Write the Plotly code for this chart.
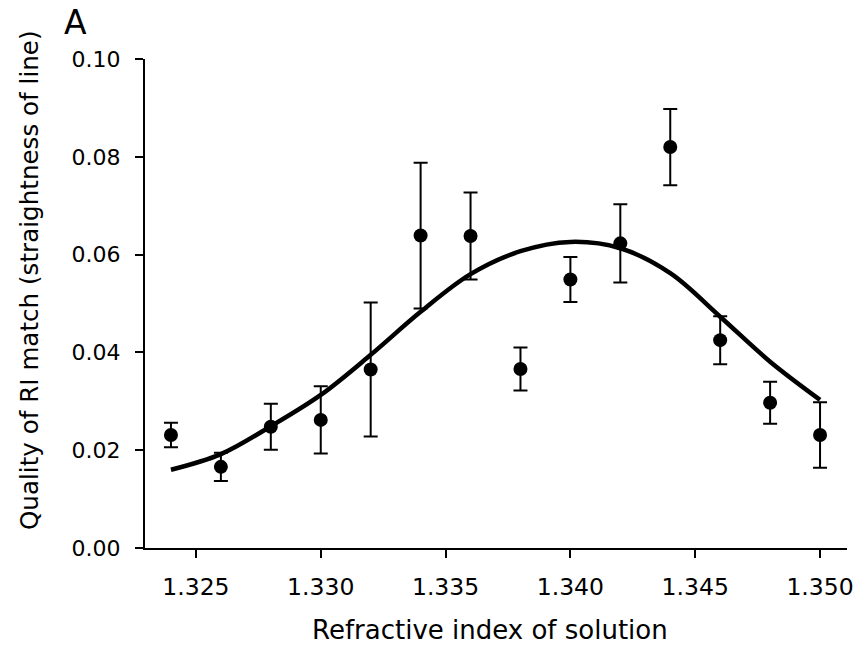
import plotly.graph_objects as go

# Data
ri = [1.324, 1.326, 1.328, 1.330, 1.332, 1.334, 1.336, 1.338, 1.340, 1.342, 1.344, 1.346, 1.348, 1.350]
quality = [0.0231, 0.0166, 0.0248, 0.0262, 0.0365, 0.0639, 0.0638, 0.0366, 0.0549, 0.0623, 0.0820, 0.0425, 0.0297, 0.0231]
err = [0.0025, 0.0029, 0.0047, 0.0069, 0.0137, 0.0149, 0.0089, 0.0044, 0.0046, 0.0080, 0.0078, 0.0049, 0.0043, 0.0067]

fit_x = [1.324, 1.326, 1.328, 1.330, 1.332, 1.334, 1.336, 1.338, 1.340, 1.342, 1.344, 1.346, 1.348, 1.350]
fit_y = [0.0160, 0.0192, 0.0249, 0.0313, 0.0395, 0.0483, 0.0560, 0.0607, 0.0626, 0.0613, 0.0562, 0.0473, 0.0381, 0.0303]

x_ticks = [1.325, 1.330, 1.335, 1.340, 1.345, 1.350]
x_ticklabels = ["1.325", "1.330", "1.335", "1.340", "1.345", "1.350"]
y_ticks = [0.00, 0.02, 0.04, 0.06, 0.08, 0.10]
y_ticklabels = ["0.00", "0.02", "0.04", "0.06", "0.08", "0.10"]

x_title = "Refractive index of solution"
y_title = "Quality of RI match (straightness of line)"
panel_label = "A"

FONT = "DejaVu Sans, Verdana, sans-serif"

# plot-area geometry in pixels
W, H = 860, 648
L, R, T, B = 145, 13, 59, 100
PW, PH = W - L - R, H - T - B


def px_x(p):
    return (p - L) / PW


def px_y(p):
    return (H - B - p) / PH


fig = go.Figure()
fig.add_trace(go.Scatter(
    x=fit_x, y=fit_y, mode="lines",
    line=dict(color="black", width=4.5, shape="spline", smoothing=1.0),
    hoverinfo="skip", showlegend=False,
))
fig.add_trace(go.Scatter(
    x=ri, y=quality, mode="markers",
    marker=dict(color="black", size=14, symbol="circle"),
    error_y=dict(type="data", array=err, visible=True, color="black", thickness=2, width=7),
    showlegend=False,
))

fig.update_layout(
    width=W, height=H,
    margin=dict(l=L, r=R, t=T, b=B, autoexpand=False),
    paper_bgcolor="white", plot_bgcolor="white",
    font=dict(family=FONT, size=21, color="black"),
    xaxis=dict(
        range=[1.32296, 1.35108],
        tickvals=x_ticks, ticktext=x_ticklabels,
        tickfont=dict(size=23.5),
        showline=True, linecolor="black", linewidth=2,
        ticks="outside", ticklen=8, tickwidth=2, tickcolor="black",
        ticklabelstandoff=9, automargin=False,
        showgrid=False, zeroline=False,
    ),
    yaxis=dict(
        range=[0, 0.1],
        tickvals=y_ticks, ticktext=y_ticklabels,
        tickfont=dict(size=22),
        showline=True, linecolor="black", linewidth=2,
        ticks="outside", ticklen=8, tickwidth=2, tickcolor="black",
        ticklabelstandoff=10, automargin=False,
        showgrid=False, zeroline=False,
    ),
    annotations=[
        dict(text=panel_label, x=px_x(75), y=px_y(23), xref="paper", yref="paper",
             xanchor="center", yanchor="middle", showarrow=False,
             font=dict(size=33, family=FONT)),
        dict(text=x_title, x=px_x(490), y=px_y(630), xref="paper", yref="paper",
             xanchor="center", yanchor="middle", showarrow=False,
             font=dict(size=26, family=FONT)),
        dict(text=y_title, x=px_x(29), y=px_y(280), xref="paper", yref="paper",
             xanchor="center", yanchor="middle", showarrow=False, textangle=-90,
             font=dict(size=24.6, family=FONT)),
    ],
)

fig.write_html("out.html")
